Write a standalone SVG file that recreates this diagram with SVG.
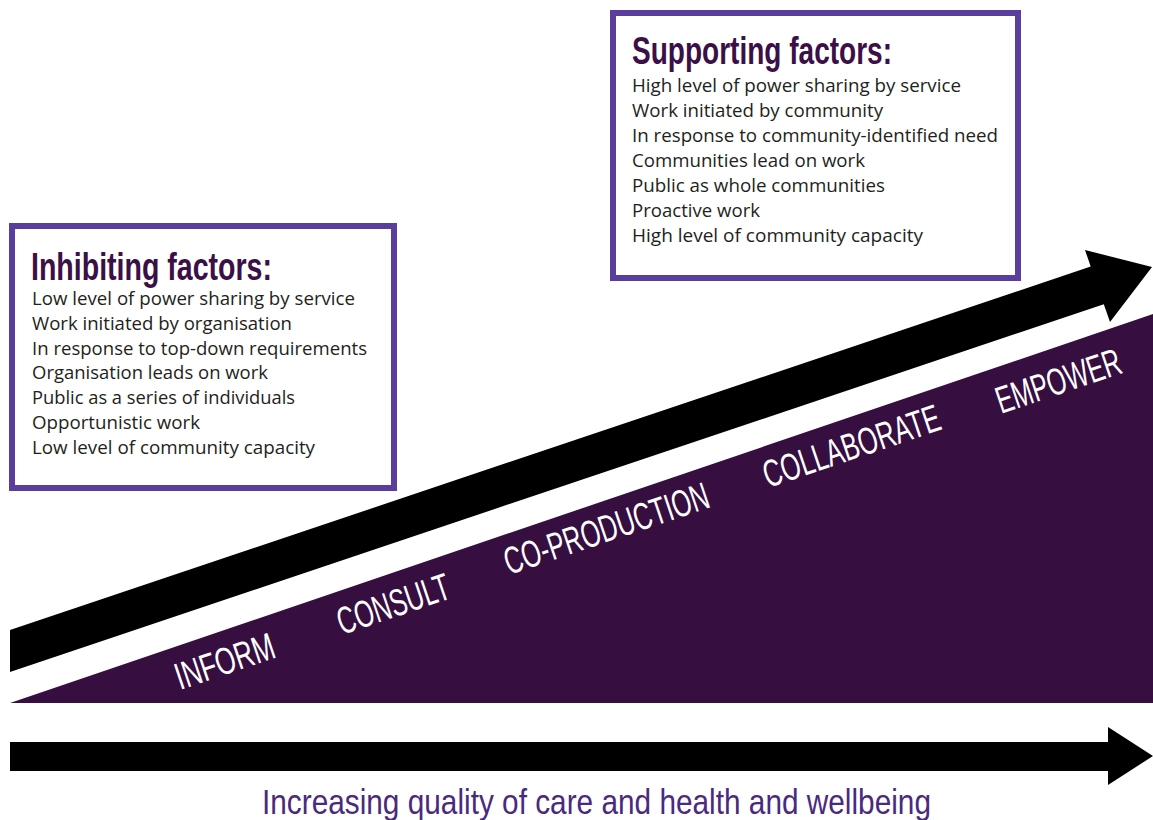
<svg xmlns="http://www.w3.org/2000/svg" width="1153" height="820" viewBox="0 0 1153 820">
  <style>
    .frame { fill: #ffffff; stroke: #5b3d9d; stroke-width: 6; }
    .heading { font-family: "Liberation Sans Narrow", "Liberation Sans", Arial, sans-serif; font-weight: bold; font-size: 38px; fill: #3b1047; }
    .item { font-family: "Open Sans", "Noto Sans", "Liberation Sans", sans-serif; font-size: 18px; fill: #231f20; }
    .stage { font-family: "Liberation Sans Narrow", "Liberation Sans", Arial, sans-serif; font-size: 38px; fill: #ffffff; }
    .caption { font-family: "Liberation Sans Narrow", "Liberation Sans", Arial, sans-serif; font-size: 35px; fill: #4a2a80; }
    .arrow { fill: #000000; }
  </style>

  <rect width="1153" height="820" fill="#ffffff"/>

  <!-- rising wedge of engagement levels -->
  <polygon id="wedge" points="10,703 1153,703 1153,314" fill="#370e40"/>

  <g id="connectors">
    <!-- diagonal arrow above the wedge -->
    <polygon class="arrow" points="10,630 1090.7,266.6 1085,250 1152,267 1110,322 1103.8,304.2 10,672"/>
    <!-- horizontal arrow along the bottom -->
    <polygon class="arrow" points="10,742 1108,742 1108,727 1153,756 1108,785 1108,771 10,771"/>
  </g>

  <g id="inhibiting">
    <rect class="frame" x="12" y="226" width="382" height="262"/>
    <text class="heading" x="31" y="280" textLength="241" lengthAdjust="spacingAndGlyphs">Inhibiting factors:</text>
    <text class="item" x="32" y="305" textLength="323" lengthAdjust="spacingAndGlyphs">Low level of power sharing by service</text>
    <text class="item" x="32" y="330" textLength="260" lengthAdjust="spacingAndGlyphs">Work initiated by organisation</text>
    <text class="item" x="32" y="355" textLength="335" lengthAdjust="spacingAndGlyphs">In response to top-down requirements</text>
    <text class="item" x="32" y="379" textLength="236" lengthAdjust="spacingAndGlyphs">Organisation leads on work</text>
    <text class="item" x="32" y="404" textLength="263" lengthAdjust="spacingAndGlyphs">Public as a series of individuals</text>
    <text class="item" x="32" y="429" textLength="168" lengthAdjust="spacingAndGlyphs">Opportunistic work</text>
    <text class="item" x="32" y="454" textLength="283" lengthAdjust="spacingAndGlyphs">Low level of community capacity</text>
  </g>

  <g id="supporting">
    <rect class="frame" x="613" y="13" width="405" height="265"/>
    <text class="heading" x="632" y="64" textLength="260" lengthAdjust="spacingAndGlyphs">Supporting factors:</text>
    <text class="item" x="632" y="92" textLength="329" lengthAdjust="spacingAndGlyphs">High level of power sharing by service</text>
    <text class="item" x="632" y="117" textLength="251" lengthAdjust="spacingAndGlyphs">Work initiated by community</text>
    <text class="item" x="632" y="142" textLength="366" lengthAdjust="spacingAndGlyphs">In response to community-identified need</text>
    <text class="item" x="632" y="167" textLength="233" lengthAdjust="spacingAndGlyphs">Communities lead on work</text>
    <text class="item" x="632" y="192" textLength="253" lengthAdjust="spacingAndGlyphs">Public as whole communities</text>
    <text class="item" x="632" y="217" textLength="128" lengthAdjust="spacingAndGlyphs">Proactive work</text>
    <text class="item" x="632" y="242" textLength="291" lengthAdjust="spacingAndGlyphs">High level of community capacity</text>
  </g>

  <g id="stage-inform">
    <text class="stage" x="180" y="690" transform="rotate(-18.6 180 690)" textLength="103" lengthAdjust="spacingAndGlyphs">INFORM</text>
  </g>
  <g id="stage-consult">
    <text class="stage" x="342" y="635" transform="rotate(-18.6 342 635)" textLength="117" lengthAdjust="spacingAndGlyphs">CONSULT</text>
  </g>
  <g id="stage-coproduction">
    <text class="stage" x="509" y="575" transform="rotate(-18.6 509 575)" textLength="214" lengthAdjust="spacingAndGlyphs">CO-PRODUCTION</text>
  </g>
  <g id="stage-collaborate">
    <text class="stage" x="768" y="488" transform="rotate(-18.6 768 488)" textLength="185" lengthAdjust="spacingAndGlyphs">COLLABORATE</text>
  </g>
  <g id="stage-empower">
    <text class="stage" x="1001" y="414" transform="rotate(-18.6 1001 414)" textLength="130" lengthAdjust="spacingAndGlyphs">EMPOWER</text>
  </g>

  <g id="caption">
    <text class="caption" x="262" y="814" textLength="669" lengthAdjust="spacingAndGlyphs">Increasing quality of care and health and wellbeing</text>
  </g>
</svg>
